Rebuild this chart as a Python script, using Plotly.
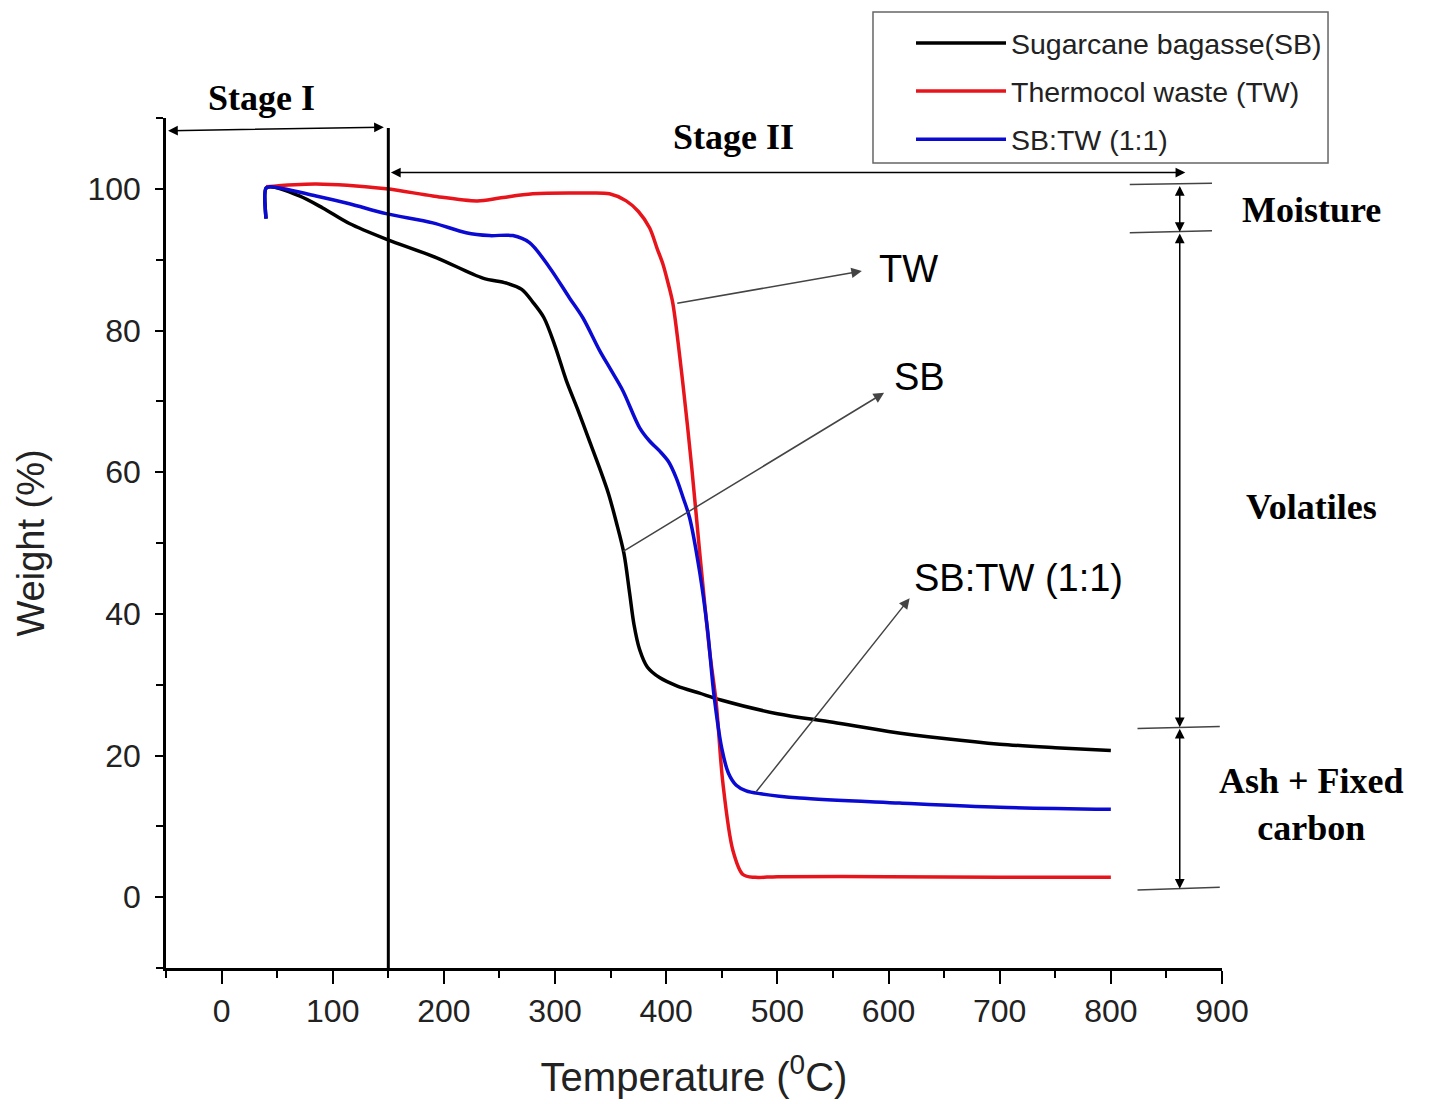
import plotly.graph_objects as go

# ---------------- data ----------------
temp_sb = [40, 40, 44, 70, 91, 115, 148, 193, 235, 256, 270, 280, 290, 300, 310, 320, 330, 340, 348, 355, 362, 367, 371, 376, 383, 394, 410, 430, 450, 500, 550, 600, 650, 700, 750, 800]
w_sb = [95.8, 100.1, 100.3, 99.0, 97.3, 95.1, 92.9, 90.3, 87.4, 86.7, 85.8, 84.0, 81.8, 77.8, 73.0, 69.0, 64.8, 60.6, 57.0, 53.0, 48.5, 43.0, 38.5, 35.0, 32.5, 31.0, 29.8, 28.8, 27.8, 25.9, 24.7, 23.4, 22.4, 21.6, 21.1, 20.7]

temp_tw = [40, 85, 148, 190, 230, 250, 280, 325, 349, 364, 375, 385, 392, 397, 402, 406, 415, 423, 430, 439, 445, 451, 460, 469, 480, 500, 600, 700, 800]
w_tw = [100.3, 100.7, 100.0, 99.0, 98.3, 98.7, 99.3, 99.4, 99.3, 98.3, 96.8, 94.5, 91.5, 89.4, 86.5, 83.8, 72.5, 60.6, 48.9, 34.8, 27.4, 16.1, 6.6, 3.2, 2.8, 2.9, 2.9, 2.8, 2.8]

temp_mix = [40, 40, 44, 85, 115, 148, 190, 220, 241, 262, 277, 295, 313, 325, 340, 350, 361, 376, 385, 394, 402, 409, 415, 421, 430, 437, 443, 450, 456, 463, 472, 485, 520, 610, 700, 800]
w_mix = [95.8, 100.1, 100.3, 99.0, 97.9, 96.5, 95.2, 93.8, 93.4, 93.4, 92.4, 88.9, 84.6, 81.8, 77.2, 74.5, 71.5, 66.3, 64.4, 63.0, 61.5, 59.2, 56.5, 53.6, 46.0, 38.0, 28.5, 21.0, 17.5, 15.8, 15.0, 14.6, 14.0, 13.3, 12.7, 12.4]

series_names = ["Sugarcane bagasse(SB)", "Thermocol waste (TW)", "SB:TW (1:1)"]
series_colors = ["#000000", "#e8141c", "#0a0ad2"]

x_ticks = [0, 100, 200, 300, 400, 500, 600, 700, 800, 900]
y_ticks = [0, 20, 40, 60, 80, 100]

SANS = "Liberation Sans, Arial, sans-serif"
SERIF = "Liberation Serif, Times New Roman, serif"

fig = go.Figure()
for i, (xs, ys) in enumerate([(temp_sb, w_sb), (temp_tw, w_tw), (temp_mix, w_mix)]):
    fig.add_trace(go.Scatter(
        x=xs, y=ys, mode="lines", name=series_names[i],
        line=dict(color=series_colors[i], width=3.5, shape="spline", smoothing=0.9),
        legendgroup=f"g{i}",
    ))

# stage separator
fig.add_shape(type="line", xref="x", yref="y", x0=150, x1=150, y0=-10, y1=108.6,
              line=dict(color="black", width=3))

# right side bracket lines
for (x0, y0, x1, y1) in [(817, 100.6, 891, 100.8), (817, 93.8, 891, 94.1),
                         (824, 23.8, 898, 24.1), (824, 1.0, 898, 1.4)]:
    fig.add_shape(type="line", xref="x", yref="y", x0=x0, y0=y0, x1=x1, y1=y1,
                  line=dict(color="#444", width=1.5))

# legend frame
fig.add_shape(type="rect", xref="paper", yref="paper", x0=0.6695, x1=1.1004, y0=0.947, y1=1.1247,
              line=dict(color="#666", width=1.5), fillcolor="rgba(0,0,0,0)")

ann = []
def darrow(x0, y0, x1, y1, color="black", width=1.5, size=1.3):
    ann.append(dict(x=x1, y=y1, ax=x0, ay=y0, xref="x", yref="y", axref="x", ayref="y",
                    text="", showarrow=True, arrowhead=2, arrowside="end+start",
                    arrowsize=size, arrowwidth=width, arrowcolor=color))

def sarrow(x0, y0, x1, y1):
    ann.append(dict(x=x1, y=y1, ax=x0, ay=y0, xref="x", yref="y", axref="x", ayref="y",
                    text="", showarrow=True, arrowhead=2, arrowsize=1.4,
                    arrowwidth=1.5, arrowcolor="#444"))

darrow(-49.5, 108.2, 146, 108.7)      # Stage I
darrow(151, 102.3, 867, 102.3)        # Stage II
darrow(862, 100.6, 862, 93.9)         # Moisture
darrow(862, 93.9, 862, 24.0)          # Volatiles
darrow(862, 24.0, 862, 1.2)           # Ash + fixed carbon

sarrow(408.6, 83.8, 576, 88.4)        # TW pointer
sarrow(360, 48.7, 596, 71.2)          # SB pointer
sarrow(480, 14.7, 619, 42.2)          # blend pointer

def txt(text, x, y, font, size, xanchor="center", ref="paper"):
    ann.append(dict(text=text, x=x, y=y, xref=ref if ref == "paper" else "x",
                    yref=ref if ref == "paper" else "y", showarrow=False,
                    xanchor=xanchor, yanchor="middle",
                    font=dict(family=font, size=size, color="black")))

txt("<b>Stage I</b>", 0.0909, 1.0235, SERIF, 36)
txt("<b>Stage II</b>", 0.537, 0.9776, SERIF, 36)
txt("<b>Moisture</b>", 1.0852, 0.8918, SERIF, 36)
txt("<b>Volatiles</b>", 1.0852, 0.5424, SERIF, 36)
txt("<b>Ash + Fixed<br>carbon</b>", 1.0852, 0.1918, SERIF, 36)

txt("TW", 589.5, 88.7, SANS, 38, xanchor="left", ref="data")
txt("SB", 603, 73.5, SANS, 38, xanchor="left", ref="data")
txt("SB:TW (1:1)", 621, 45.0, SANS, 38, xanchor="left", ref="data")

fig.update_layout(
    width=1431, height=1104,
    margin=dict(l=166, r=209, t=118, b=136),
    paper_bgcolor="white", plot_bgcolor="white",
    font=dict(family=SANS, color="#222"),
    annotations=ann,
    showlegend=True,
    legend=dict(x=0.7055, y=1.1176, xanchor="left", yanchor="top",
                borderwidth=0, bgcolor="rgba(0,0,0,0)",
                font=dict(family=SANS, size=28.5, color="#222"),
                tracegroupgap=8, itemwidth=90),
    xaxis=dict(range=[-50, 900], tickvals=x_ticks, showgrid=False, zeroline=False,
               showline=True, linecolor="black", linewidth=2.5,
               ticks="outside", ticklen=13, tickwidth=2, tickcolor="black",
               tickfont=dict(size=32, family=SANS, color="#222"),
               minor=dict(dtick=50, tick0=0, ticks="outside", ticklen=7, tickwidth=2, tickcolor="black"),
               title=dict(text="Temperature (<sup>0</sup>C)", font=dict(size=40, family=SANS, color="#222"), standoff=35),
               automargin=False),
    yaxis=dict(range=[-10, 110], tickvals=y_ticks, showgrid=False, zeroline=False,
               showline=True, linecolor="black", linewidth=2.5,
               ticks="outside", ticklen=8, tickwidth=2, tickcolor="black",
               ticklabelstandoff=8,
               tickfont=dict(size=32, family=SANS, color="#222"),
               minor=dict(dtick=10, tick0=0, ticks="outside", ticklen=7, tickwidth=2, tickcolor="black"),
               title=dict(text="Weight (%)", font=dict(size=38, family=SANS, color="#222"), standoff=32),
               automargin=False),
)

fig.write_html("out.html")
